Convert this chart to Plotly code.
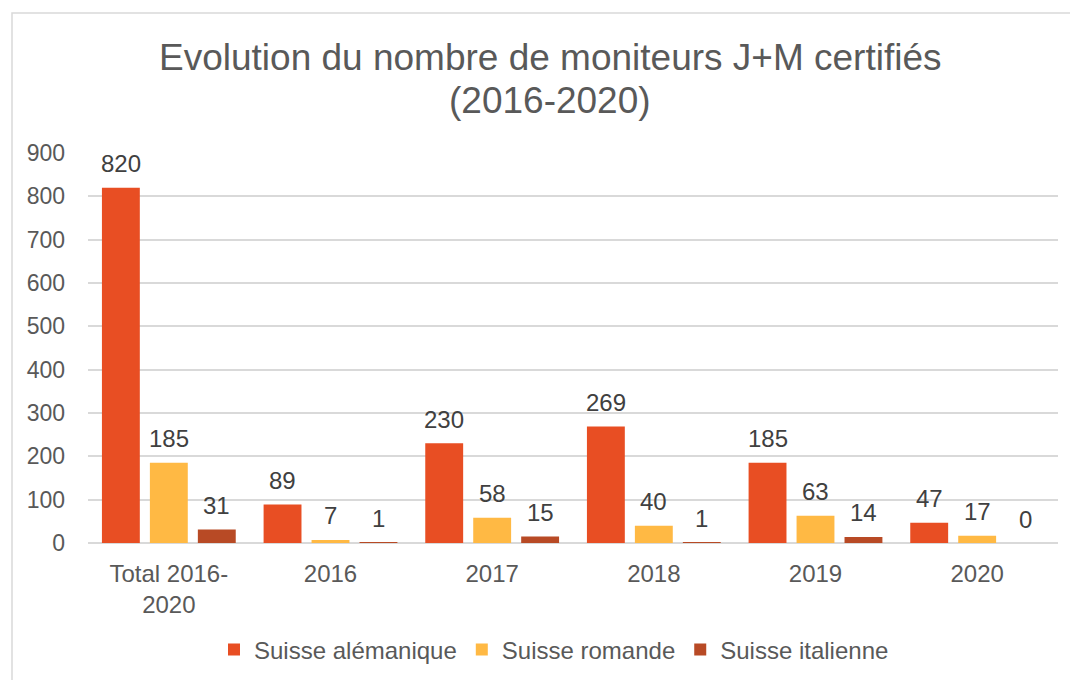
import plotly.graph_objects as go

categories = ["Total 2016-<br>2020", "2016", "2017", "2018", "2019", "2020"]
alemanique = [820, 89, 230, 269, 185, 47]
romande = [185, 7, 58, 40, 63, 17]
italienne = [31, 1, 15, 1, 14, 0]
series_names = ["Suisse alémanique", "Suisse romande", "Suisse italienne"]
colors = ["#E84E23", "#FFB944", "#B84A25"]
title_lines = ["Evolution du nombre de moniteurs J+M certifiés", "(2016-2020)"]

FONT = "Liberation Sans, Arial"
# screen-space plot area (body margin 8px accounted for in margins)
PX0, PX1, PY0, PY1 = 88, 1058, 153, 543
def px(x):
    return (x - PX0) / (PX1 - PX0)
def py(y):
    return (PY1 - y) / (PY1 - PY0)

fig = go.Figure()
all_series = [alemanique, romande, italienne]
for name, vals, col in zip(series_names, all_series, colors):
    fig.add_trace(go.Bar(
        x=categories, y=vals, name=name, marker=dict(color=col, line=dict(width=0)),
        cliponaxis=False,
    ))

annotations = []
for si, vals in enumerate(all_series):
    for ci, v in enumerate(vals):
        annotations.append(dict(
            x=ci, y=v, xref="x", yref="y", text=str(v), showarrow=False,
            xshift=(si - 1) * 48, yshift=24, yanchor="middle", xanchor="center",
            font=dict(size=24, color="#404040", family=FONT)))

annotations.append(dict(x=px(550), y=py(57), xref="paper", yref="paper", text=title_lines[0],
                        showarrow=False, xanchor="center", yanchor="middle",
                        font=dict(size=37, color="#595959", family=FONT)))
annotations.append(dict(x=px(550), y=py(100), xref="paper", yref="paper", text=title_lines[1],
                        showarrow=False, xanchor="center", yanchor="middle",
                        font=dict(size=37, color="#595959", family=FONT)))

fig.update_layout(
    width=1078, height=680,
    paper_bgcolor="white", plot_bgcolor="white",
    margin=dict(l=80, r=28, t=145, b=145, autoexpand=False),
    barmode="group", bargap=0.11, bargroupgap=0.21,
    font=dict(family=FONT, color="#595959", size=24),
    legend=dict(orientation="h", x=px(554), xanchor="center", y=py(650), yanchor="middle",
                font=dict(size=24, color="#595959", family=FONT), itemwidth=30,
                traceorder="normal"),
    showlegend=True,
    annotations=annotations,
)
fig.update_yaxes(range=[0, 900], dtick=100, showgrid=True, gridcolor="#d9d9d9", gridwidth=1.5,
                 zeroline=True, zerolinecolor="#d9d9d9", zerolinewidth=1.5, ticks="",
                 tickfont=dict(size=23, color="#595959"), showline=False, ticklabelstandoff=22,
                 automargin=False)
fig.update_xaxes(type="category", showgrid=False, ticks="", showline=False, ticklabelstandoff=14,
                 tickfont=dict(size=24, color="#595959"), automargin=False)
fig.add_shape(type="rect", xref="paper", yref="paper",
              x0=px(12), x1=px(1100), y0=py(700), y1=py(13),
              line=dict(color="#d9d9d9", width=1.5), fillcolor="rgba(0,0,0,0)", layer="below")

fig.write_html("out.html")
